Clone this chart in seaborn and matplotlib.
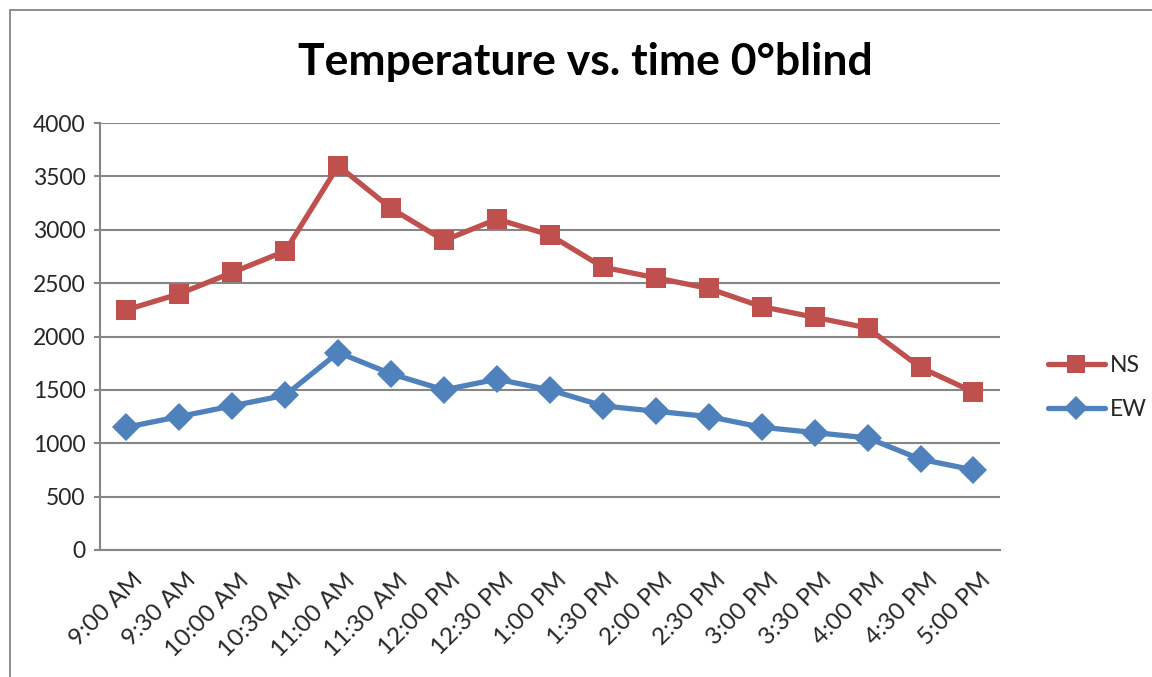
import numpy as np
import pandas as pd
import seaborn as sns
import matplotlib.pyplot as plt
import matplotlib.transforms as mtransforms
from matplotlib.patches import Rectangle

times = ["9:00 AM", "9:30 AM", "10:00 AM", "10:30 AM", "11:00 AM", "11:30 AM",
         "12:00 PM", "12:30 PM", "1:00 PM", "1:30 PM", "2:00 PM", "2:30 PM",
         "3:00 PM", "3:30 PM", "4:00 PM", "4:30 PM", "5:00 PM"]
ns = [2250, 2400, 2600, 2800, 3600, 3200, 2900, 3100, 2950, 2650, 2550, 2450,
      2280, 2180, 2080, 1710, 1480]
ew = [1150, 1250, 1350, 1450, 1850, 1650, 1500, 1600, 1500, 1350, 1300, 1250,
      1150, 1100, 1050, 850, 750]

df = pd.DataFrame({"time": times * 2,
                   "pos": list(range(len(times))) * 2,
                   "value": ns + ew,
                   "series": ["NS"] * len(times) + ["EW"] * len(times)})

sns.set_theme(style="white")
plt.rcParams["font.family"] = ["Lato", "DejaVu Sans"]

fig = plt.figure(figsize=(11.52, 6.77), dpi=100)
ax = fig.add_axes([0.0868, 0.1876, 0.7812, 0.6307])

# chart frame (left and top edges visible)
fig.patches.append(Rectangle((10 / 1152, -0.05), 1.2, 1.05 - 10 / 677, transform=fig.transFigure,
                             fill=False, edgecolor="#868686", linewidth=1.3))

sns.lineplot(data=df, x="pos", y="value", hue="series", style="series",
             palette={"NS": "#C0504D", "EW": "#4F81BD"},
             markers={"NS": "s", "EW": "D"}, dashes=False,
             linewidth=3.8, markersize=14.5, markeredgewidth=0, ax=ax)

ax.set_xlim(-0.5, len(times) - 0.5)
ax.set_ylim(0, 4000)
ax.set_yticks(np.arange(0, 4001, 500))
ax.yaxis.grid(True, color="#868686", linewidth=1.5)
ax.set_axisbelow(True)
for s in ["top", "right"]:
    ax.spines[s].set_visible(False)
for s in ["left", "bottom"]:
    ax.spines[s].set_color("#868686")
    ax.spines[s].set_linewidth(1.5)

ax.set_xticks(range(len(times)))
ax.set_xticklabels(times, rotation=45, ha="right", rotation_mode="anchor")
ax.set_xticks(np.arange(-0.5, len(times), 1), minor=True)
ax.tick_params(axis="x", which="major", length=0, labelsize=17.5, pad=14)
ax.tick_params(axis="x", which="minor", length=4.5, width=1.5, color="#868686", direction="out")
ax.tick_params(axis="y", length=4.5, width=1.5, color="#868686", labelsize=16.5, pad=6, left=True)
ax.set_xlabel("")
ax.set_ylabel("")

shift = mtransforms.ScaledTranslation(0.06, 0, fig.dpi_scale_trans)
for lab in ax.get_xticklabels():
    lab.set_transform(lab.get_transform() + shift)

fig.text(0.508, 1 - 62 / 677, "Temperature vs. time 0°blind", fontsize=32,
         fontweight="bold", ha="center", va="center", color="black")

handles, labels = ax.get_legend_handles_labels()
ax.legend(handles, labels, loc="center left", bbox_to_anchor=(1.03, 0.38),
          frameon=False, fontsize=16.5, handlelength=2.5, labelspacing=1.0,
          handletextpad=0.2, markerscale=0.85)

fig.savefig("out.png", dpi=100)
